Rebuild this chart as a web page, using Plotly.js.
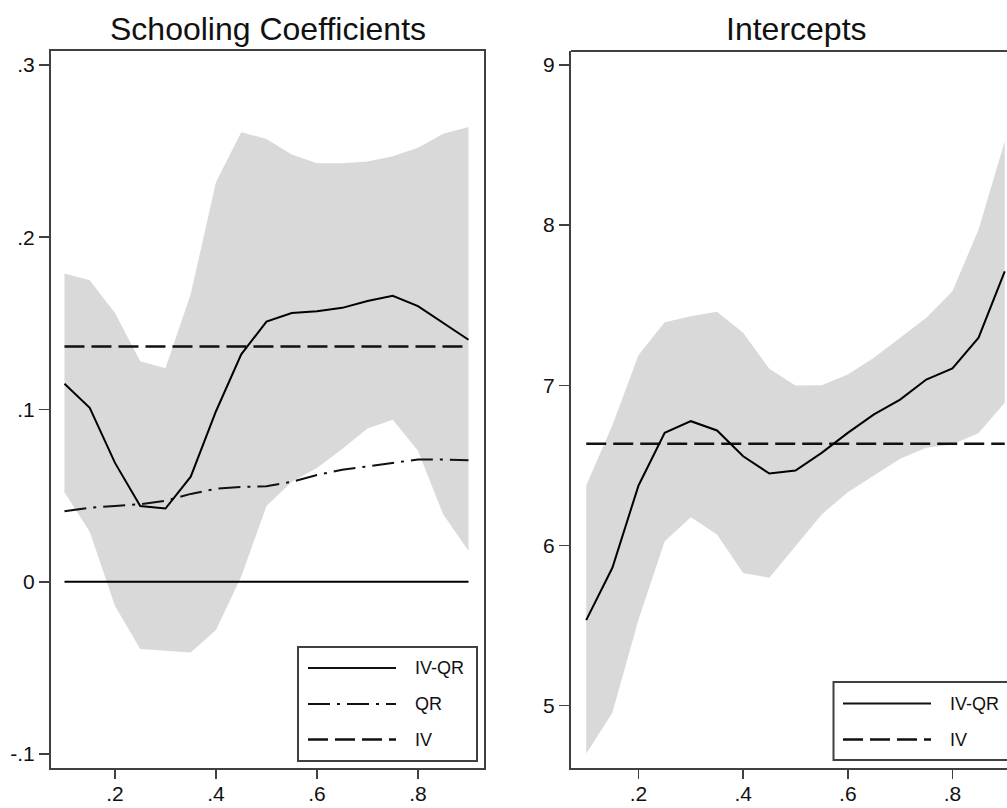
<!DOCTYPE html>
<html>
<head>
<meta charset="utf-8">
<script src="https://cdn.plot.ly/plotly-3.0.1.min.js"></script>
<style>html,body{margin:0;padding:0;background:#fff;}#chart{width:1007px;height:808px;}</style>
</head>
<body>
<div id="chart"></div>
<script>
// ---- Data ----
const quantiles = [0.10,0.15,0.20,0.25,0.30,0.35,0.40,0.45,0.50,0.55,0.60,0.65,0.70,0.75,0.80,0.85,0.90];

const schoolIVQR  = [0.115,0.101,0.069,0.044,0.0425,0.061,0.099,0.132,0.151,0.156,0.157,0.159,0.163,0.166,0.160,0.150,0.1405];
const schoolUpper = [0.179,0.175,0.156,0.128,0.124,0.167,0.232,0.261,0.257,0.248,0.243,0.243,0.244,0.247,0.252,0.260,0.264];
const schoolLower = [0.052,0.029,-0.014,-0.039,-0.040,-0.041,-0.028,0.003,0.044,0.058,0.066,0.077,0.089,0.094,0.076,0.039,0.018];
const schoolQR    = [0.041,0.043,0.044,0.045,0.047,0.051,0.054,0.055,0.0555,0.058,0.062,0.065,0.067,0.069,0.071,0.071,0.0705];
const schoolIV    = 0.1365;
const schoolZero  = 0;

const interIVQR  = [5.534,5.861,6.375,6.703,6.776,6.718,6.557,6.449,6.468,6.578,6.703,6.818,6.911,7.036,7.105,7.297,7.712];
const interUpper = [6.375,6.750,7.190,7.394,7.431,7.459,7.328,7.103,6.999,7.001,7.067,7.172,7.297,7.421,7.587,7.973,8.524];
const interLower = [4.700,4.956,5.538,6.027,6.177,6.069,5.829,5.798,5.996,6.194,6.333,6.437,6.541,6.610,6.630,6.703,6.891];
const interIV    = 6.635;

const xTickVals = [0.2,0.4,0.6,0.8];
const xTickText = ['.2','.4','.6','.8'];
const ySchoolTickVals = [-0.1,0,0.1,0.2,0.3];
const ySchoolTickText = ['-.1','0','.1','.2','.3'];
const yInterTickVals = [5,6,7,8,9];
const yInterTickText = ['5','6','7','8','9'];

const titles = ['Schooling Coefficients','Intercepts'];
const legendSchool = ['IV-QR','QR','IV'];
const legendInter = ['IV-QR','IV'];

// ---- Styles ----
const W = 1007, H = 808;
const FONT = 'Liberation Sans, Arial, sans-serif';
const FILL = '#d9d9d9';
const FRAME = '#404040';
const DASH = '20px,7px';
const DASHDOT = '22px,7px,3px,7px';
const px = x => x / W;
const py = y => 1 - y / H;
const constLine = v => quantiles.map(() => v);

const traces = [
  // Left panel
  {x: quantiles, y: schoolLower, xaxis:'x', yaxis:'y', mode:'lines', line:{width:0, color:FILL}, showlegend:false, hoverinfo:'skip'},
  {x: quantiles, y: schoolUpper, xaxis:'x', yaxis:'y', mode:'lines', line:{width:0, color:FILL}, fill:'tonexty', fillcolor:FILL, showlegend:false, hoverinfo:'skip'},
  {x: quantiles, y: constLine(schoolZero), xaxis:'x', yaxis:'y', mode:'lines', line:{width:2, color:'#000'}, showlegend:false},
  {x: quantiles, y: constLine(schoolIV), xaxis:'x', yaxis:'y', mode:'lines', line:{width:2.5, color:'#111', dash:DASH}, name:'IV', showlegend:false},
  {x: quantiles, y: schoolQR, xaxis:'x', yaxis:'y', mode:'lines', line:{width:2, color:'#111', dash:DASHDOT}, name:'QR', showlegend:false},
  {x: quantiles, y: schoolIVQR, xaxis:'x', yaxis:'y', mode:'lines', line:{width:2, color:'#000'}, name:'IV-QR', showlegend:false},
  // Right panel
  {x: quantiles, y: interLower, xaxis:'x2', yaxis:'y2', mode:'lines', line:{width:0, color:FILL}, showlegend:false, hoverinfo:'skip'},
  {x: quantiles, y: interUpper, xaxis:'x2', yaxis:'y2', mode:'lines', line:{width:0, color:FILL}, fill:'tonexty', fillcolor:FILL, showlegend:false, hoverinfo:'skip'},
  {x: quantiles, y: constLine(interIV), xaxis:'x2', yaxis:'y2', mode:'lines', line:{width:2.5, color:'#111', dash:DASH}, name:'IV', showlegend:false},
  {x: quantiles, y: interIVQR, xaxis:'x2', yaxis:'y2', mode:'lines', line:{width:2, color:'#000'}, name:'IV-QR', showlegend:false}
];

const axisCommon = {
  showgrid:false, zeroline:false, showline:true, linecolor:FRAME, linewidth:2,
  ticks:'outside', tickcolor:FRAME, tickwidth:1.5,
  tickfont:{family:FONT, size:21, color:'#111'}, fixedrange:true
};
const yDom = [py(768), py(51)];

const layout = {
  width: W, height: H,
  margin:{l:0, r:0, t:0, b:0},
  paper_bgcolor:'#fff', plot_bgcolor:'#fff',
  showlegend:false,
  font:{family:FONT, color:'#111'},
  xaxis: Object.assign({}, axisCommon, {domain:[px(51), px(484)], range:[0.0733,0.9307], tickvals:xTickVals, ticktext:xTickText, ticklen:9, ticklabelstandoff:-3, mirror:true, anchor:'y'}),
  yaxis: Object.assign({}, axisCommon, {domain:yDom, range:[-0.1081,0.3081], tickvals:ySchoolTickVals, ticktext:ySchoolTickText, ticklen:10, mirror:true, anchor:'x'}),
  xaxis2: Object.assign({}, axisCommon, {domain:[px(571), 1], range:[0.0709,0.9043], tickvals:xTickVals, ticktext:xTickText, ticklen:9, ticklabelstandoff:-3, anchor:'y2'}),
  yaxis2: Object.assign({}, axisCommon, {domain:yDom, range:[4.611,9.087], tickvals:yInterTickVals, ticktext:yInterTickText, ticklen:10, anchor:'x2'}),
  annotations: [],
  shapes: []
};

// top border for the right panel (right side is cut off in the reference)
layout.shapes.push({type:'line', xref:'paper', yref:'paper', x0:px(571), x1:1.01, y0:py(51), y1:py(51), line:{color:FRAME, width:2}});

// titles
layout.annotations.push({text:titles[0], xref:'paper', yref:'paper', x:px(267.5), y:py(29), xanchor:'center', yanchor:'middle', showarrow:false, font:{family:FONT, size:32, color:'#111'}});
layout.annotations.push({text:titles[1], xref:'paper', yref:'paper', x:px(796), y:py(29), xanchor:'center', yanchor:'middle', showarrow:false, font:{family:FONT, size:32, color:'#111'}});

// legend boxes
function legendBox(x0, y0, x1, y1) {
  layout.shapes.push({type:'rect', xref:'paper', yref:'paper', x0:px(x0), x1:px(x1), y0:py(y1), y1:py(y0), line:{color:FRAME, width:2}, fillcolor:'#fff'});
}
function legendItem(label, y, lx0, lx1, tx, dash, width) {
  layout.shapes.push({type:'line', xref:'paper', yref:'paper', x0:px(lx0), x1:px(lx1), y0:py(y), y1:py(y), line:{color:'#111', width:width, dash:dash}});
  layout.annotations.push({text:label, xref:'paper', yref:'paper', x:px(tx), y:py(y), xanchor:'left', yanchor:'middle', showarrow:false, font:{family:FONT, size:18, color:'#111'}});
}
legendBox(298, 647, 477, 761);
legendItem(legendSchool[0], 668, 308, 396, 413, 'solid', 2);
legendItem(legendSchool[1], 704, 308, 396, 413, DASHDOT, 2);
legendItem(legendSchool[2], 739.5, 308, 396, 413, DASH, 2.5);

legendBox(833.5, 682, 1012, 760);
legendItem(legendInter[0], 703.5, 843, 931, 948, 'solid', 2);
legendItem(legendInter[1], 739.5, 843, 931, 948, DASH, 2.5);

Plotly.newPlot('chart', traces, layout, {displayModeBar:false, staticPlot:true});
</script>
</body>
</html>
